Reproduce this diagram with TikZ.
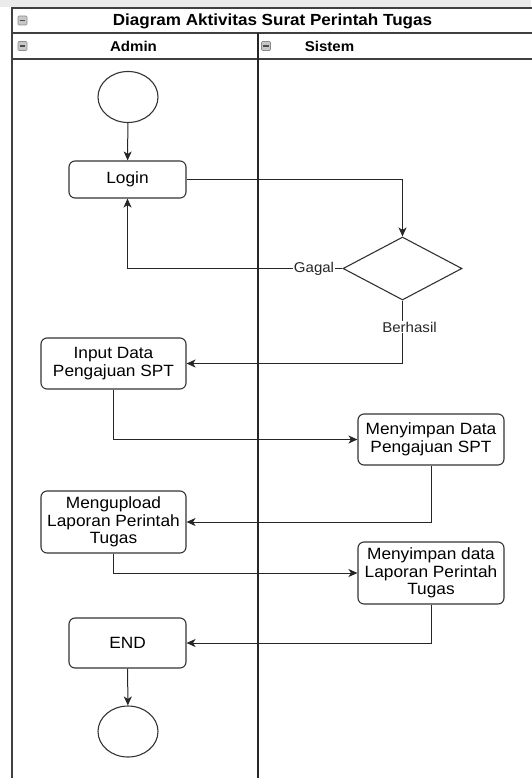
\documentclass[tikz,border=0pt]{standalone}
\usepackage{fontspec}
\setmainfont[FakeStretch=1.06]{Liberation Sans}
\usetikzlibrary{arrows.meta,shapes.geometric}
\tikzset{
  frameline/.style={line width=1.5pt, draw=black!75},
  actbox/.style={draw=black!80, line width=1.1pt, rounded corners=6pt, align=center,
    inner sep=1pt, font=\fontsize{16.3}{17.5}\selectfont},
  startstop/.style={ellipse, draw=black!80, line width=1.1pt, minimum width=60pt, minimum height=51pt, inner sep=0pt},
  decision/.style={diamond, draw=black!80, line width=1.1pt, minimum width=119pt, minimum height=63pt, inner sep=0pt, aspect=1.9},
  conn/.style={draw=black!85, line width=1pt, -{Stealth[length=9pt,width=8pt,inset=2.5pt]}},
  lbl/.style={fill=white, inner sep=1pt, font=\fontsize{14.2}{15}\selectfont, text=black!85},
  hdr/.style={font=\fontsize{14.2}{15}\selectfont\bfseries},
  ttl/.style={font=\fontsize{16.1}{17}\selectfont\bfseries},
  iconbox/.style={draw=black!45, fill=black!22, line width=0.6pt, rounded corners=1pt}
}
\begin{document}
\begin{tikzpicture}[x=1pt,y=-1pt]
\useasboundingbox (0,0) rectangle (531,778);
\fill[black!8] (0,0) rectangle (531,7);
% pool frame
\draw[frameline] (12,778) -- (12,8) -- (533,8);
\draw[frameline] (12,33) -- (533,33);
\draw[frameline] (12,59) -- (533,59);
\draw[line width=1.2pt, draw=black!85] (258,33) -- (258,778);
% header texts
\node[ttl] (title) at (272.5,21) {Diagram Aktivitas Surat Perintah Tugas};
\node[hdr] (admin) at (133.5,46.5) {Admin};
\node[hdr] (sistem) at (329.5,46.5) {Sistem};
% collapse icons
\foreach \ix/\iy in {22.5/20.5, 22.5/46, 266/46}{
  \draw[iconbox] (\ix-4.5,\iy-4.5) rectangle (\ix+4.5,\iy+4.5);
  \draw[black!70, line width=1.2pt] (\ix-2.8,\iy) -- (\ix+2.8,\iy);
}
% nodes
\node[startstop] (start) at (128,97) {};
\node[actbox, minimum width=117pt, minimum height=37pt] (login) at (127.5,179.5) {Login};
\node[decision] (dec) at (402.5,268.5) {};
\node[actbox, minimum width=145pt, minimum height=51pt] (input) at (113.5,363.5) {Input Data\\Pengajuan SPT};
\node[actbox, minimum width=146pt, minimum height=51pt] (simpan1) at (431,439.5) {Menyimpan Data\\Pengajuan SPT};
\node[actbox, minimum width=145pt, minimum height=62pt] (upload) at (113.5,522) {Mengupload\\Laporan Perintah\\Tugas};
\node[actbox, minimum width=146pt, minimum height=62pt] (simpan2) at (431,573) {Menyimpan data\\Laporan Perintah\\Tugas};
\node[actbox, minimum width=117pt, minimum height=50pt] (endbox) at (127.5,643) {END};
\node[startstop] (stop) at (128,731.5) {};
% connectors
\draw[conn] (start) -- (login);
\draw[conn] (login.east) -| (dec.north);
\draw[conn] (dec.west) -| (login.south);
\node[lbl] (gagal) at (314,268.5) {Gagal};
\draw[conn] (dec.south) |- (input.east);
\node[lbl] (berhasil) at (409.5,327) {Berhasil};
\draw[conn] (input.south) |- (simpan1.west);
\draw[conn] (simpan1.south) |- (upload.east);
\draw[conn] (upload.south) |- (simpan2.west);
\draw[conn] (simpan2.south) |- (endbox.east);
\draw[conn] (endbox) -- (stop);
\end{tikzpicture}
\end{document}
